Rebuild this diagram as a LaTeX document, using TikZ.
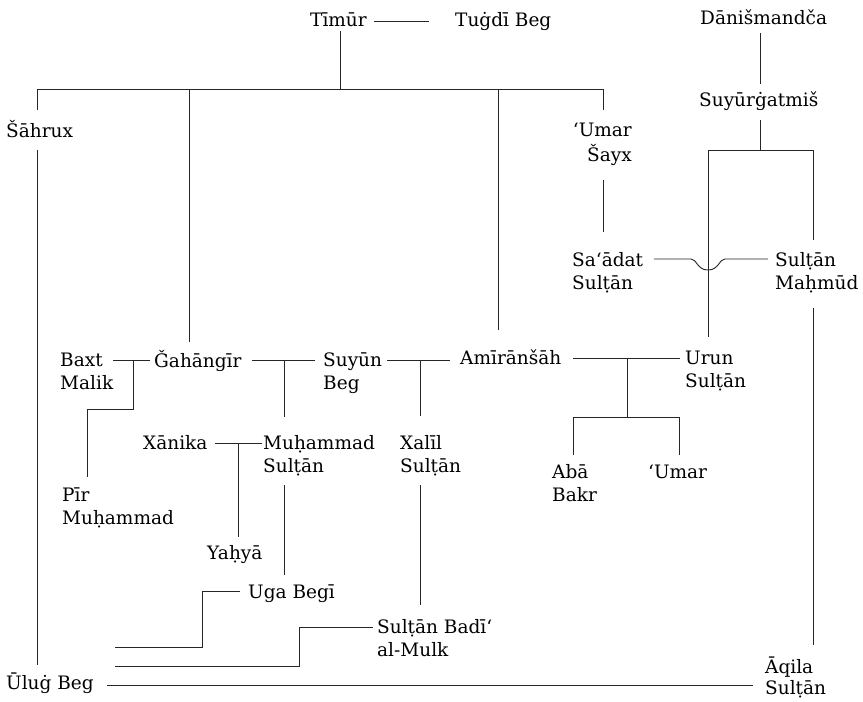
\documentclass[tikz,border=0pt]{standalone}
\usepackage{fontspec}
\setmainfont{DejaVu Serif}
\begin{document}
\begin{tikzpicture}[x=1pt,y=-1pt,
  nm/.style={inner sep=0pt, anchor=north west, align=left, font=\fontsize{18.5}{23}\selectfont},
  nmr/.style={nm, anchor=north east, align=right},
  ln/.style={line width=0.9pt, draw=black!85}]
\useasboundingbox (0,0) rectangle (863,702);
% names
\node[nm] (timur) at (310,10) {\strut Tīmūr};
\node[nm] (tugdi) at (455,10) {\strut Tuġdī Beg};
\node[nm] (danis) at (700,8) {\strut Dānišmandča};
\node[nm] (suyur) at (699,90) {\strut Suyūrġatmiš};
\node[nm] (sahrux) at (6,120) {\strut Šāhrux};
\node[nmr] (umarsayx) at (632,120) {\strut ‘Umar\\\strut Šayx};
\node[nm] (saadat) at (572,250) {\strut Sa‘ādat\\\strut Sulṭān};
\node[nm] (sultanm) at (775,250) {\strut Sulṭān\\\strut Maḥmūd};
\node[nm] (baxt) at (60,350) {\strut Baxt\\\strut Malik};
\node[nm] (gahangir) at (154,350) {\strut Ǧahāngīr};
\node[nm] (suyun) at (323,350) {\strut Suyūn\\\strut Beg};
\node[nm] (amiran) at (460,348) {\strut Amīrānšāh};
\node[nm] (urun) at (685,348) {\strut Urun\\\strut Sulṭān};
\node[nm] (xanika) at (143,433) {\strut Xānika};
\node[nm] (muhammad) at (263,433) {\strut Muḥammad\\\strut Sulṭān};
\node[nm] (xalil) at (400,433) {\strut Xalīl\\\strut Sulṭān};
\node[nm] (abubakr) at (552,462) {\strut Abā\\\strut Bakr};
\node[nm] (umar) at (648,462) {\strut ‘Umar};
\node[nm] (pir) at (62,485) {\strut Pīr\\\strut Muḥammad};
\node[nm] (yahya) at (207,543) {\strut Yaḥyā};
\node[nm] (uga) at (248,582) {\strut Uga Begī};
\node[nm] (badi) at (377,617) {\strut Sulṭān Badī‘\\\strut al-Mulk};
\node[nm, font=\fontsize{18.5}{21}\selectfont] (aqila) at (765,657) {\strut Āqila\\\strut Sulṭān};
\node[nm] (ulug) at (6,673) {\strut Ūluġ Beg};
% junction coordinates
\coordinate (tA) at (374,21); \coordinate (tB) at (429,21);
\coordinate (t1) at (340,31); \coordinate (t2) at (340,89);
\coordinate (bL) at (37,89); \coordinate (bR) at (603,89);
\coordinate (s1) at (37,110); \coordinate (s2) at (37,150); \coordinate (s3) at (37,665);
\coordinate (g1) at (189,89); \coordinate (g2) at (189,342);
\coordinate (a1) at (498,89); \coordinate (a2) at (498,330);
\coordinate (u1) at (603,110); \coordinate (u2) at (603,180); \coordinate (u3) at (603,232);
\coordinate (d1) at (760,33); \coordinate (d2) at (760,84);
\coordinate (d3) at (760,120); \coordinate (d4) at (760,150);
\coordinate (dL) at (708,150); \coordinate (dR) at (813,150);
\coordinate (dL2) at (708,337); \coordinate (dR2) at (813,240);
\coordinate (m1) at (813,308); \coordinate (m2) at (813,645);
\coordinate (sa1) at (654,259); \coordinate (sa2) at (691,259);
\coordinate (sa3) at (708,270); \coordinate (sa4) at (725,259); \coordinate (sa5) at (768,259);
\coordinate (bx1) at (113,360); \coordinate (bx2) at (150,360);
\coordinate (bx3) at (133,360); \coordinate (bx4) at (133,409);
\coordinate (bx5) at (87,409); \coordinate (bx6) at (87,477);
\coordinate (gs1) at (252,360); \coordinate (gs2) at (315,360);
\coordinate (gs3) at (284,360); \coordinate (gs4) at (284,417);
\coordinate (sy1) at (387,360); \coordinate (sy2) at (450,360);
\coordinate (sy3) at (420,360); \coordinate (sy4) at (420,416);
\coordinate (am1) at (573,358); \coordinate (am2) at (680,358);
\coordinate (am3) at (627,358); \coordinate (am4) at (627,417);
\coordinate (amL) at (573,417); \coordinate (amR) at (679,417);
\coordinate (amL2) at (573,455); \coordinate (amR2) at (679,455);
\coordinate (xm1) at (215,443); \coordinate (xm2) at (262,443);
\coordinate (xm3) at (238,443); \coordinate (xm4) at (238,537);
\coordinate (mu1) at (284,485); \coordinate (mu2) at (284,575);
\coordinate (xl1) at (420,485); \coordinate (xl2) at (420,605);
\coordinate (ug1) at (115,647); \coordinate (ug2) at (202,647);
\coordinate (ug3) at (202,591); \coordinate (ug4) at (240,591);
\coordinate (bd1) at (115,666); \coordinate (bd2) at (299,666);
\coordinate (bd3) at (299,627); \coordinate (bd4) at (373,627);
\coordinate (ul1) at (107,685); \coordinate (ul2) at (753,685);
% connectors
\draw[ln] (tA) -- (tB);
\draw[ln] (t1) -- (t2);
\draw[ln] (bL) -- (bR);
\draw[ln] (bL) -- (s1);
\draw[ln] (s2) -- (s3);
\draw[ln] (g1) -- (g2);
\draw[ln] (a1) -- (a2);
\draw[ln] (bR) -- (u1);
\draw[ln] (u2) -- (u3);
\draw[ln] (d1) -- (d2);
\draw[ln] (d3) -- (d4);
\draw[ln] (dL) -- (dR);
\draw[ln] (dL) -- (dL2);
\draw[ln] (dR) -- (dR2);
\draw[ln] (m1) -- (m2);
\draw[ln] (sa1) -- (sa2) .. controls (697,259) and (697,270) .. (sa3)
  .. controls (719,270) and (719,259) .. (sa4) -- (sa5);
\draw[ln] (bx1) -- (bx2);
\draw[ln] (bx3) -- (bx4) -- (bx5) -- (bx6);
\draw[ln] (gs1) -- (gs2);
\draw[ln] (gs3) -- (gs4);
\draw[ln] (sy1) -- (sy2);
\draw[ln] (sy3) -- (sy4);
\draw[ln] (am1) -- (am2);
\draw[ln] (am3) -- (am4);
\draw[ln] (amL2) -- (amL) -- (amR) -- (amR2);
\draw[ln] (xm1) -- (xm2);
\draw[ln] (xm3) -- (xm4);
\draw[ln] (mu1) -- (mu2);
\draw[ln] (xl1) -- (xl2);
\draw[ln] (ug1) -- (ug2) -- (ug3) -- (ug4);
\draw[ln] (bd1) -- (bd2) -- (bd3) -- (bd4);
\draw[ln] (ul1) -- (ul2);
\end{tikzpicture}
\end{document}
